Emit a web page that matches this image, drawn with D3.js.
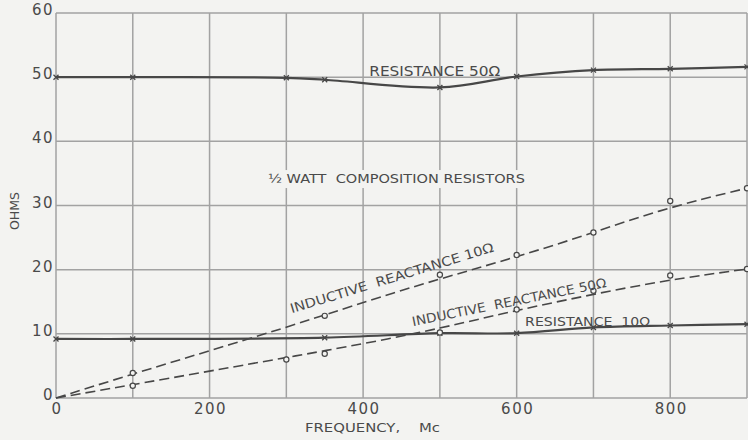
<!DOCTYPE html>
<html>
<head>
    <title>Composition resistors vs frequency</title>
    <script src="https://d3js.org/d3.v7.min.js"></script>
    <style>
        html, body {
            margin: 0;
            background: #f3f3f1;
            overflow: hidden;
        }
        text {
            font-family: "DejaVu Sans", sans-serif;
            fill: #4a4a4a;
        }
    </style>
</head>
<body>
    <div id="chart"></div>

    <script>
        // Values (frequency in Mc, ohms)
        const res50Freq = [0, 100, 300, 350, 500, 600, 700, 800, 900];
        const res50Ohms = [50, 50, 49.9, 49.6, 48.4, 50.1, 51.1, 51.3, 51.6];

        const res10Freq = [0, 100, 350, 500, 600, 700, 800, 900];
        const res10Ohms = [9.2, 9.2, 9.4, 10.1, 10.1, 11.0, 11.3, 11.5];

        const react10Freq = [0, 100, 350, 500, 600, 700, 800, 900];
        const react10Ohms = [0, 3.9, 12.8, 19.2, 22.3, 25.8, 30.7, 32.7];

        const react50Freq = [0, 100, 300, 350, 500, 600, 700, 800, 900];
        const react50Ohms = [0, 1.9, 6.0, 6.9, 10.2, 13.8, 16.7, 19.1, 20.1];

        const xTicks = [0, 200, 400, 600, 800];
        const yTicks = [0, 10, 20, 30, 40, 50, 60];

        // Set the dimensions and margins of the graph
        const W = 748, H = 440;
        const margin = {top: 13, right: 1, bottom: 42, left: 56};

        const svg = d3.select("#chart")
            .append("svg")
            .attr("width", W)
            .attr("height", H);

        const x = d3.scaleLinear().domain([0, 900]).range([margin.left, W - margin.right]);
        const y = d3.scaleLinear().domain([0, 60]).range([H - margin.bottom, margin.top]);

        const gridColor = "#a2a2a2";
        const inkColor = "#474747";

        // grid
        svg.append("g")
            .selectAll("line")
            .data(d3.range(0, 901, 100))
            .join("line")
            .attr("x1", d => x(d)).attr("x2", d => x(d))
            .attr("y1", y(0)).attr("y2", y(60))
            .attr("stroke", gridColor)
            .attr("stroke-width", 1.5);

        svg.append("g")
            .selectAll("line")
            .data(yTicks)
            .join("line")
            .attr("x1", x(0)).attr("x2", x(900))
            .attr("y1", d => y(d)).attr("y2", d => y(d))
            .attr("stroke", gridColor)
            .attr("stroke-width", 1.5);

        // tick labels
        svg.append("g")
            .selectAll("text")
            .data(yTicks)
            .join("text")
            .attr("x", x(0) - 2)
            .attr("y", d => y(d) + 2)
            .attr("text-anchor", "end")
            .attr("font-size", 15)
            .attr("letter-spacing", 1.5)
            .text(d => d);

        svg.append("g")
            .selectAll("text")
            .data(xTicks)
            .join("text")
            .attr("x", d => x(d) + 1)
            .attr("y", y(0) + 16)
            .attr("text-anchor", "middle")
            .attr("font-size", 15)
            .attr("letter-spacing", 1.5)
            .text(d => d);

        // axis titles
        svg.append("text")
            .attr("x", 305)
            .attr("y", 432)
            .attr("font-size", 13)
            .attr("textLength", 135)
            .attr("lengthAdjust", "spacingAndGlyphs")
            .attr("xml:space", "preserve")
            .text("FREQUENCY,    Mc");

        svg.append("text")
            .attr("transform", "translate(19,230) rotate(-90)")
            .attr("font-size", 13)
            .attr("textLength", 38)
            .attr("lengthAdjust", "spacingAndGlyphs")
            .text("OHMS");

        // series
        const series = [
            {xs: res50Freq, ys: res50Ohms, dashed: false, marker: "x"},
            {xs: res10Freq, ys: res10Ohms, dashed: false, marker: "x"},
            {xs: react10Freq, ys: react10Ohms, dashed: true, marker: "o"},
            {xs: react50Freq, ys: react50Ohms, dashed: true, marker: "o"}
        ];

        series.forEach(s => {
            const pts = s.xs.map((f, i) => [f, s.ys[i]]);
            const line = d3.line()
                .x(d => x(d[0]))
                .y(d => y(d[1]))
                .curve(s.dashed ? d3.curveBundle.beta(0.5) : d3.curveCatmullRom.alpha(0.5));

            svg.append("path")
                .datum(pts)
                .attr("fill", "none")
                .attr("stroke", inkColor)
                .attr("stroke-width", s.dashed ? 1.6 : 2.2)
                .attr("stroke-dasharray", s.dashed ? "10,5" : null)
                .attr("d", line);

            const g = svg.append("g");
            if (s.marker === "o") {
                g.selectAll("circle")
                    .data(pts.slice(1))
                    .join("circle")
                    .attr("cx", d => x(d[0]))
                    .attr("cy", d => y(d[1]))
                    .attr("r", 2.6)
                    .attr("fill", "#f3f3f1")
                    .attr("stroke", inkColor)
                    .attr("stroke-width", 1.2);
            } else {
                g.selectAll("path")
                    .data(pts)
                    .join("path")
                    .attr("d", d => {
                        const cx = x(d[0]), cy = y(d[1]), r = 2.5;
                        return `M${cx - r},${cy - r}L${cx + r},${cy + r}M${cx - r},${cy + r}L${cx + r},${cy - r}`;
                    })
                    .attr("stroke", inkColor)
                    .attr("stroke-width", 1.3);
            }
        });

        // annotations (anchored in data units)
        const notes = [
            {t: "RESISTANCE 50Ω", f: 408, o: 50.2, len: 131, rot: 0, size: 14},
            {t: "½ WATT  COMPOSITION RESISTORS", f: 276, o: 33.5, len: 257, rot: 0, size: 12, bg: true},
            {t: "INDUCTIVE  REACTANCE 10Ω", f: 307, o: 13.2, len: 212, rot: -17, size: 13},
            {t: "INDUCTIVE  REACTANCE 50Ω", f: 465, o: 11.2, len: 198, rot: -11.4, size: 13},
            {t: "RESISTANCE  10Ω", f: 611, o: 11.2, len: 125, rot: 0, size: 13}
        ];

        notes.forEach(n => {
            const g = svg.append("g")
                .attr("transform", `translate(${x(n.f)},${y(n.o)}) rotate(${n.rot})`);
            if (n.bg) {
                g.append("rect")
                    .attr("x", -3).attr("y", -n.size - 1)
                    .attr("width", n.len + 6).attr("height", n.size + 6)
                    .attr("fill", "#f3f3f1");
            }
            g.append("text")
                .attr("font-size", n.size)
                .attr("textLength", n.len)
                .attr("lengthAdjust", "spacingAndGlyphs")
                .attr("xml:space", "preserve")
                .text(n.t);
        });
    </script>
</body>
</html>
